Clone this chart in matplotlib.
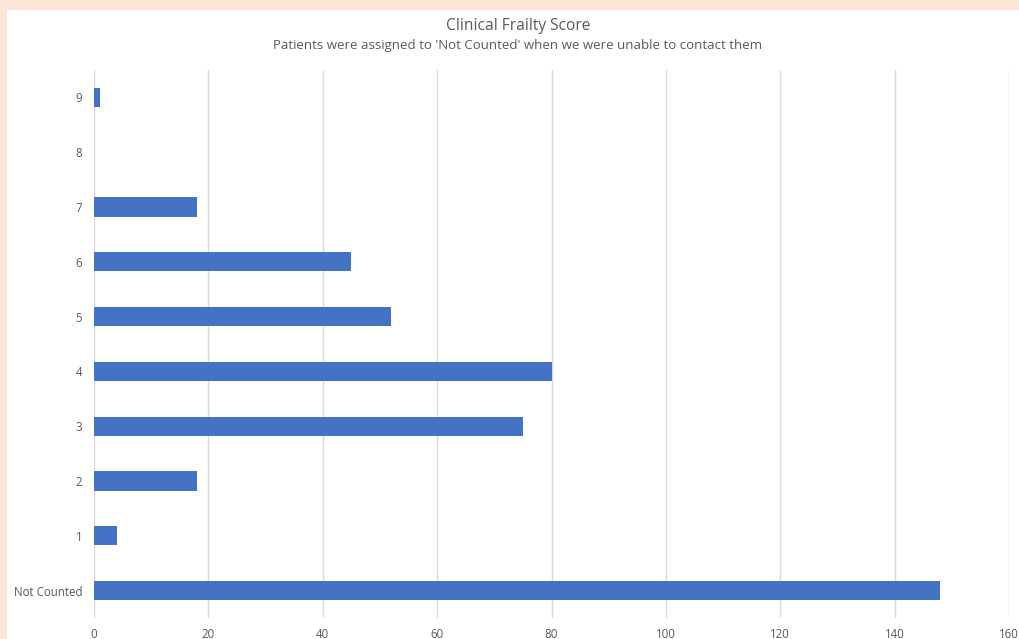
import matplotlib
matplotlib.use("Agg")
import matplotlib.pyplot as plt
from matplotlib.patches import Rectangle

categories = ["Not Counted", "1", "2", "3", "4", "5", "6", "7", "8", "9"]
values = [148, 4, 18, 75, 80, 52, 45, 18, 0, 1]
xticks = [0, 20, 40, 60, 80, 100, 120, 140, 160]

plt.rcParams['font.family'] = ['Open Sans', 'DejaVu Sans']

fig = plt.figure(figsize=(10.2, 6.39), dpi=100)
fig.patch.set_facecolor('#fce4d6')
fig.patches.append(Rectangle((7/1020, 0), 1 - 7/1020, 1 - 10/639, transform=fig.transFigure,
                             facecolor='white', edgecolor='none', zorder=-5))

ax = fig.add_axes([94/1020, 1 - 618/639, (1009-94)/1020, (618-70)/639])
ax.set_zorder(2)
ax.set_facecolor('none')
ypos = list(range(len(categories)))
ax.barh(ypos, values, height=0.35, color='#4472C4', zorder=3)
ax.set_yticks(ypos)
ax.set_yticklabels(categories)
ax.set_xticks(xticks)
ax.set_xlim(0, 160)
ax.set_ylim(-0.5, 9.5)
ax.grid(axis='x', color='#d9d9d9', linewidth=1, zorder=0)
for s in ax.spines.values():
    s.set_visible(False)
ax.tick_params(axis='both', length=0, labelsize=8.3, colors='#595959')
ax.tick_params(axis='y', pad=8.5)
ax.tick_params(axis='x', pad=7)

fig.text(518/1020, 1 - 26/639, "Clinical Frailty Score", ha='center', va='center',
         fontsize=11.2, color='#595959', zorder=5)
fig.text(518/1020, 1 - 45/639, "Patients were assigned to 'Not Counted' when we were unable to contact them",
         ha='center', va='center', fontsize=9.5, color='#595959', zorder=5)

fig.savefig("out.png", dpi=100, facecolor=fig.get_facecolor())
